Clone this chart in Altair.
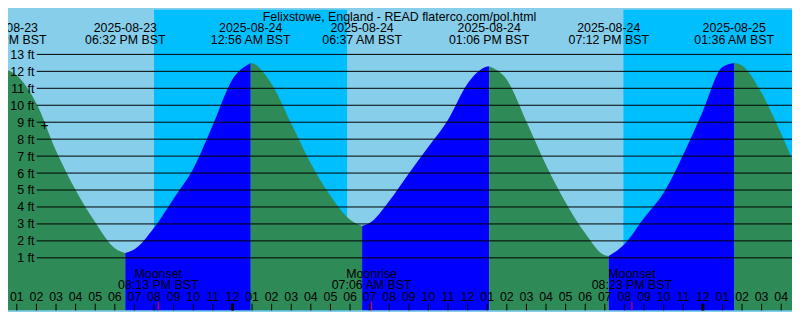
import altair as alt
import pandas as pd

# ---------------- data ----------------
TITLE = "Felixstowe, England - READ flaterco.com/pol.html"
BASE = pd.Timestamp("2025-08-23 00:00")

# hourly tide level readings (ft), 2025-08-23 12:00 ... 2025-08-25 05:00
HOURLY_START = "2025-08-23 12:00"
HOURLY_LEVELS = [
    11.95, 11.75, 10.1, 7.32, 5.0, 3.1, 1.57, 1.5, 2.77, 4.49, 6.25, 8.83,
    11.52, 12.48, 11.25, 8.92, 6.57, 4.66, 3.25, 3.05, 4.35, 5.98, 7.55, 9.15,
    11.28, 12.28, 11.51, 9.04, 6.48, 4.27, 2.45, 1.15, 1.8, 3.35, 4.84, 7.08,
    9.65, 12.25, 12.35, 10.72, 8.32, 5.6,
]

# high / low tide events
EVENT_TIMES = ["2025-08-23 12:28", "2025-08-23 18:32", "2025-08-24 00:56",
               "2025-08-24 06:37", "2025-08-24 13:06", "2025-08-24 19:12",
               "2025-08-25 01:36"]
EVENT_LEVELS = [12.1, 1.28, 12.49, 2.88, 12.3, 1.11, 12.49]
EVENT_KIND = ["high", "low", "high", "low", "high", "low", "high"]
EVENT_DATES = ["2025-08-23", "2025-08-23", "2025-08-24", "2025-08-24",
               "2025-08-24", "2025-08-24", "2025-08-25"]
EVENT_CLOCK = ["12:28 PM BST", "06:32 PM BST", "12:56 AM BST", "06:37 AM BST",
               "01:06 PM BST", "07:12 PM BST", "01:36 AM BST"]

# night (sunset -> sunrise)
SUNSETS = ["2025-08-23 20:00", "2025-08-24 19:57"]
SUNRISES = ["2025-08-24 05:51", "2025-08-25 05:53"]

# moon events
MOON_TIMES = ["2025-08-23 20:13", "2025-08-24 07:06", "2025-08-24 20:23"]
MOON_NAMES = ["Moonset", "Moonrise", "Moonset"]
MOON_CLOCK = ["08:13 PM BST", "07:06 AM BST", "08:23 PM BST"]

# "now" marker
MARK_TIME = ["2025-08-23 14:25"]
MARK_LEVEL = [8.8]

# axis ticks
FEET = list(range(1, 14))
FEET_LABELS = [f"{f} ft" for f in FEET]
TICK_HOURS = list(range(13, 53))          # hours since 2025-08-23 00:00
MIDNIGHTS = [24, 48]

# ---------------- styling ----------------
SKY = "#87CEEB"
NIGHT = "#00BFFF"
EBB = "#2E8B57"
FLOOD = "#0000FF"
FONT = "Liberation Sans"
FS = 12.5
W, H = 792, 304
X_DOM = [12.55, 52.55]
Y_DOM = [-2.104, 15.646]


def hrs(s):
    return list((pd.to_datetime(pd.Series(s)) - BASE) / pd.Timedelta(hours=1))


hourly_times = pd.date_range(HOURLY_START, periods=len(HOURLY_LEVELS), freq="h")
pts = pd.concat([
    pd.DataFrame({"t": list((hourly_times - BASE) / pd.Timedelta(hours=1)),
                  "level": HOURLY_LEVELS}),
    pd.DataFrame({"t": hrs(EVENT_TIMES), "level": EVENT_LEVELS}),
]).sort_values("t").reset_index(drop=True)

# split the curve into rising / falling segments at each high / low
ev_t = hrs(EVENT_TIMES)
bounds = [pts["t"].min() - 1e-9] + ev_t + [pts["t"].max() + 1e-9]
phases = ["rising"] + ["falling" if k == "high" else "rising" for k in EVENT_KIND]
segs = []
for i in range(len(bounds) - 1):
    a, b = bounds[i], bounds[i + 1]
    s = pts[(pts["t"] >= a - 1e-6) & (pts["t"] <= b + 1e-6)].copy()
    s["seg"] = i
    s["phase"] = phases[i]
    segs.append(s)
tide = pd.concat(segs).reset_index(drop=True)
tide["base"] = Y_DOM[0]

events = pd.DataFrame({"t": ev_t, "date": EVENT_DATES, "clock": EVENT_CLOCK})
nights = pd.DataFrame({"a": hrs(SUNSETS), "b": hrs(SUNRISES),
                       "top": Y_DOM[1], "bot": Y_DOM[0]})
moons = pd.DataFrame({"t": hrs(MOON_TIMES), "name": MOON_NAMES, "clock": MOON_CLOCK})
marker = pd.DataFrame({"t": hrs(MARK_TIME), "level": MARK_LEVEL})
feet = pd.DataFrame({"ft": FEET, "label": FEET_LABELS})
ticks = pd.DataFrame({"t": TICK_HOURS,
                      "label": [f"{(h % 12) or 12:02d}" for h in TICK_HOURS]})
mid = pd.DataFrame({"t": MIDNIGHTS})

xs = alt.Scale(domain=X_DOM, nice=False, zero=False)
ys = alt.Scale(domain=Y_DOM, nice=False, zero=False)


def X(f):
    return alt.X(f, type="quantitative", scale=xs, axis=None)


def Y(f):
    return alt.Y(f, type="quantitative", scale=ys, axis=None)


def txt(df, **kw):
    return alt.Chart(df).mark_text(font=FONT, fontSize=FS, color="black", **kw)


night_layer = alt.Chart(nights).mark_rect(color=NIGHT, clip=True).encode(
    x=X("a"), x2=alt.X2("b"), y=Y("top"), y2=alt.Y2("bot"))

tide_layer = alt.Chart(tide).mark_area(interpolate="monotone", clip=True).encode(
    x=X("t"), y=Y("level"), y2=alt.Y2("base"),
    color=alt.Color("phase:N", scale=alt.Scale(domain=["falling", "rising"],
                                               range=[EBB, FLOOD]), legend=None),
    detail="seg:N",
)

grid = alt.Chart(feet).mark_rule(color="black", strokeWidth=1).encode(
    y=Y("ft"), x=alt.value(29), x2=alt.value(W))

ylabels = txt(feet, align="right", baseline="middle", dy=0.5).encode(
    y=Y("ft"), x=alt.value(26.6), text="label:N")

top_date = txt(events, align="center", baseline="alphabetic").encode(
    x=X("t"), y=alt.value(22.7), text="date:N")
top_clock = txt(events, align="center", baseline="alphabetic").encode(
    x=X("t"), y=alt.value(35.1), text="clock:N")

moon_name = txt(moons, align="center", baseline="alphabetic").encode(
    x=X("t"), y=alt.value(270.9), text="name:N")
moon_clock = txt(moons, align="center", baseline="alphabetic").encode(
    x=X("t"), y=alt.value(282.4), text="clock:N")
moon_ticks = alt.Chart(moons).mark_rule(color="red", strokeWidth=1).encode(
    x=X("t"), y=alt.value(295.2), y2=alt.value(H))

hour_labels = txt(ticks, align="center", baseline="alphabetic").encode(
    x=X("t"), y=alt.value(294), text="label:N")
hour_ticks = alt.Chart(ticks).mark_rule(color="black", strokeWidth=1).encode(
    x=X("t"), y=alt.value(297.2), y2=alt.value(H))
mid_ticks = alt.Chart(mid).mark_rule(color="black", strokeWidth=3).encode(
    x=X("t"), y=alt.value(297.2), y2=alt.value(H))

plus = alt.Chart(marker).mark_text(
    text="+", font=FONT, fontSize=14, color="black", align="center", baseline="middle"
).encode(x=X("t"), y=Y("level"))

title = txt(pd.DataFrame({"txt": [TITLE]}), align="center", baseline="alphabetic").encode(
    x=alt.value(W / 2 - 0.5), y=alt.value(11.2), text="txt:N")

chart = alt.layer(
    night_layer, tide_layer, grid, ylabels, top_date, top_clock,
    moon_name, moon_clock, hour_labels, hour_ticks, mid_ticks, moon_ticks,
    plus, title,
).properties(
    width=W, height=H, autosize=alt.AutoSizeParams(type="none"), padding=0,
    background=SKY,
).configure_view(stroke=None)

chart.save("out.html", embed_options={"renderer": "svg", "actions": False})
